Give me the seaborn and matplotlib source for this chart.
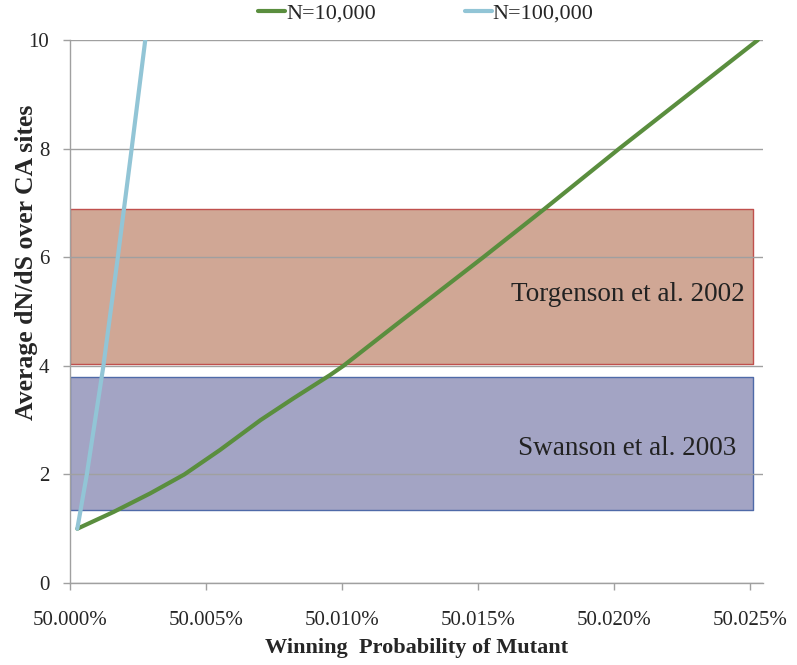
import numpy as np
import pandas as pd
import matplotlib.pyplot as plt
import matplotlib.ticker as mticker
import seaborn as sns

# data (x dalam persen)
x_n10k = [50.00026, 50.0016, 50.00294, 50.0042, 50.00551, 50.0070, 50.00821, 50.00956,
          50.01005, 50.0121, 50.0152, 50.0174, 50.0202, 50.0253]
y_n10k = [1.0, 1.31, 1.65, 2.0, 2.45, 3.0, 3.40, 3.83, 4.0, 4.8, 6.0, 6.87, 8.0, 10.0]
x_n100k = [50.00026, 50.00061, 50.00122, 50.00175, 50.00226, 50.00276]
y_n100k = [1.0, 2.0, 4.0, 6.0, 8.0, 10.0]

band_labels = ['Torgenson et al. 2002', 'Swanson et al. 2003']
band_low = [4.03, 1.34]
band_high = [6.89, 3.79]
band_text_y = [5.31, 2.48]
band_x = [49.99999, 50.02511]
band_fill = ['#D0A795', '#A3A4C4']
band_edge = ['#C0504D', '#4F6AA8']

xticks = [50.000, 50.005, 50.010, 50.015, 50.020, 50.025]
yticks = [0, 2, 4, 6, 8, 10]

df = pd.concat([
    pd.DataFrame({'x': x_n10k, 'y': y_n10k, 'N': 'N=10,000'}),
    pd.DataFrame({'x': x_n100k, 'y': y_n100k, 'N': 'N=100,000'}),
])

sns.set_style('white')
plt.rcParams['font.family'] = ['Liberation Serif', 'DejaVu Serif']

fig = plt.figure(figsize=(7.97, 6.65), dpi=100)
ax = fig.add_axes([0.0878, 0.1233, 0.957 - 0.0878, 0.9398 - 0.1233])

# kotak rentang studi
for lab, lo, hi, ty, fc, ec in zip(band_labels, band_low, band_high, band_text_y, band_fill, band_edge):
    ax.fill_between(band_x, lo, hi, facecolor=fc, edgecolor=ec, linewidth=1.0, zorder=0.3)
    ax.text(50.0205, ty, lab, ha='center', va='center', fontsize=19.5, color='#222222', zorder=3)

sns.lineplot(data=df, x='x', y='y', hue='N', palette=['#5A8E3E', '#92C5D6'],
             linewidth=3, ax=ax, sort=False, zorder=2)

ax.set_xlim(49.99999, 50.02548)
ax.set_ylim(0, 10)
ax.set_xticks(xticks)
ax.set_yticks(yticks)
ax.xaxis.set_major_formatter(mticker.FuncFormatter(lambda v, p: f'{v:.3f}%'))
ax.tick_params(axis='both', labelsize=15, length=5, width=1, color='#A0A0A0', direction='out',
               bottom=True, left=True)
ax.tick_params(axis='x', pad=15)
ax.tick_params(axis='y', pad=10)
ax.set_axisbelow(True)
ax.yaxis.grid(True, color='#A0A0A0', linewidth=1)
ax.xaxis.grid(False)
for s in ['top', 'right']:
    ax.spines[s].set_visible(False)
for s in ['left', 'bottom']:
    ax.spines[s].set_color('#A0A0A0')
    ax.spines[s].set_linewidth(1)

ax.set_xlabel('Winning  Probability of Mutant', fontsize=16, fontweight='bold')
ax.set_ylabel('Average dN/dS over CA sites', fontsize=18.5, fontweight='bold')
ax.xaxis.set_label_coords(0.5, -0.102)
ax.yaxis.set_label_coords(-0.046, 0.59)

ax.legend(loc='center', bbox_to_anchor=(426 / 797, 1 - 13 / 665), bbox_transform=fig.transFigure,
          ncol=2, frameon=False, fontsize=16, handlelength=1.2, handletextpad=0.05,
          columnspacing=4.0, borderaxespad=0.0, borderpad=0.0)

fig.savefig('out.png', dpi=100)
